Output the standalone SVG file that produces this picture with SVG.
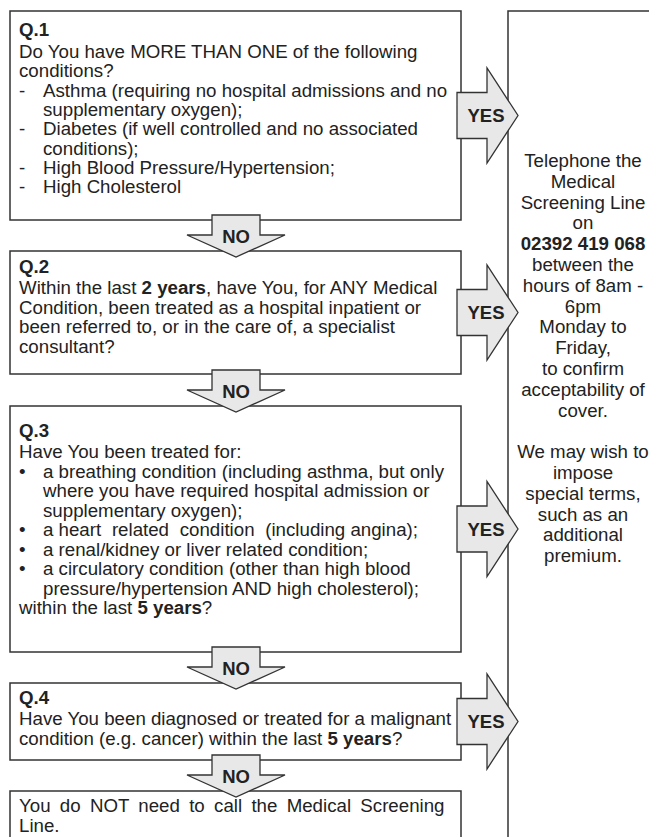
<svg xmlns="http://www.w3.org/2000/svg" width="649" height="837" viewBox="0 0 649 837">
<style>
.box{fill:#fff;stroke:#333;stroke-width:1.5}
.arr{fill:#e8e8e8;stroke:#333;stroke-width:1.3;stroke-linejoin:miter}
text{font-family:"Liberation Sans",Arial,sans-serif;font-size:18.7px;fill:#222}
.b{font-weight:bold}
.c{text-anchor:middle}
.lbl{font-family:"Liberation Sans",Arial,sans-serif;font-size:18.5px;font-weight:bold;text-anchor:middle;fill:#222}
</style>
<rect width="649" height="837" fill="#fff"/>
<g id="result">
<rect class="box" x="508" y="11" width="160" height="850"/>
<text class="c" x="583" y="167">Telephone the</text>
<text class="c" x="583" y="188">Medical</text>
<text class="c" x="583" y="209">Screening Line</text>
<text class="c" x="583" y="229">on</text>
<text class="c b" x="583" y="250">02392 419 068</text>
<text class="c" x="583" y="271">between the</text>
<text class="c" x="583" y="292">hours of 8am -</text>
<text class="c" x="583" y="313">6pm</text>
<text class="c" x="583" y="333">Monday to</text>
<text class="c" x="583" y="354">Friday,</text>
<text class="c" x="583" y="375">to confirm</text>
<text class="c" x="583" y="396">acceptability of</text>
<text class="c" x="583" y="417">cover.</text>
<text class="c" x="583" y="458">We may wish to</text>
<text class="c" x="583" y="479">impose</text>
<text class="c" x="583" y="500">special terms,</text>
<text class="c" x="583" y="521">such as an</text>
<text class="c" x="583" y="541">additional</text>
<text class="c" x="583" y="562">premium.</text>
</g>
<g id="q1">
<rect class="box" x="10" y="11" width="451" height="209"/>
<text class="b" x="19" y="36">Q.1</text>
<text x="19" y="58">Do You have MORE THAN ONE of the following</text>
<text x="19" y="77.3">conditions?</text>
<text x="19" y="96.6">-</text><text x="43" y="96.6">Asthma (requiring no hospital admissions and no</text>
<text x="43" y="115.9">supplementary oxygen);</text>
<text x="19" y="135.2">-</text><text x="43" y="135.2">Diabetes (if well controlled and no associated</text>
<text x="43" y="154.5">conditions);</text>
<text x="19" y="173.8">-</text><text x="43" y="173.8">High Blood Pressure/Hypertension;</text>
<text x="19" y="193.1">-</text><text x="43" y="193.1">High Cholesterol</text>
</g>
<g id="q2">
<rect class="box" x="10" y="251" width="451" height="123"/>
<text class="b" x="19" y="273">Q.2</text>
<text x="19" y="294">Within the last <tspan class="b">2 years</tspan>, have You, for ANY Medical</text>
<text x="19" y="313.5">Condition, been treated as a hospital inpatient or</text>
<text x="19" y="333">been referred to, or in the care of, a specialist</text>
<text x="19" y="352.5">consultant?</text>
</g>
<g id="q3">
<rect class="box" x="10" y="406" width="451" height="246"/>
<text class="b" x="19" y="437">Q.3</text>
<text x="19" y="458">Have You been treated for:</text>
<text x="19" y="477.5">•</text><text x="43" y="477.5">a breathing condition (including asthma, but only</text>
<text x="43" y="497">where you have required hospital admission or</text>
<text x="43" y="516.5">supplementary oxygen);</text>
<text x="19" y="536">•</text><text x="43" y="536">a heart <tspan dx="5.5">related</tspan> <tspan dx="5.5">condition</tspan> <tspan dx="5.5">(including angina);</tspan></text>
<text x="19" y="555.5">•</text><text x="43" y="555.5">a renal/kidney or liver related condition;</text>
<text x="19" y="575">•</text><text x="43" y="575">a circulatory condition (other than high blood</text>
<text x="43" y="594.5">pressure/hypertension AND high cholesterol);</text>
<text x="19" y="614">within the last <tspan class="b">5 years</tspan>?</text>
</g>
<g id="q4">
<rect class="box" x="10" y="683" width="451" height="77"/>
<text class="b" x="19" y="704">Q.4</text>
<text x="19" y="725">Have You been diagnosed or treated for a malignant</text>
<text x="19" y="744.5">condition (e.g. cancer) within the last <tspan class="b">5 years</tspan>?</text>
</g>
<g id="no-call">
<rect class="box" x="10" y="791" width="451" height="70"/>
<text x="19" y="812" word-spacing="4.1">You do NOT need to call the Medical Screening</text>
<text x="19" y="832">Line.</text>
</g>
<g id="connectors">
<g id="yes1"><polygon class="arr" points="457,92.5 487,92.5 487,68 518,115.5 487,163 487,138.5 457,138.5"/><text class="lbl" x="486" y="122">YES</text></g>
<g id="yes2"><polygon class="arr" points="457,289.5 487,289.5 487,265 518,312.5 487,360 487,335.5 457,335.5"/><text class="lbl" x="486" y="319">YES</text></g>
<g id="yes3"><polygon class="arr" points="457,506 487,506 487,481.5 518,529 487,576.5 487,552 457,552"/><text class="lbl" x="486" y="535.5">YES</text></g>
<g id="yes4"><polygon class="arr" points="457,698.5 487,698.5 487,674 518,721.5 487,769 487,744.5 457,744.5"/><text class="lbl" x="486" y="728">YES</text></g>
<g id="no1"><polygon class="arr" points="212,215 260,215 260,235 285,235 236,257 187,235 212,235"/><text class="lbl" x="236" y="243">NO</text></g>
<g id="no2"><polygon class="arr" points="212,370 260,370 260,390 285,390 236,412 187,390 212,390"/><text class="lbl" x="236" y="398">NO</text></g>
<g id="no3"><polygon class="arr" points="212,647 260,647 260,667 285,667 236,689 187,667 212,667"/><text class="lbl" x="236" y="675">NO</text></g>
<g id="no4"><polygon class="arr" points="212,755 260,755 260,775 285,775 236,797 187,775 212,775"/><text class="lbl" x="236" y="783">NO</text></g>
</g>
</svg>
